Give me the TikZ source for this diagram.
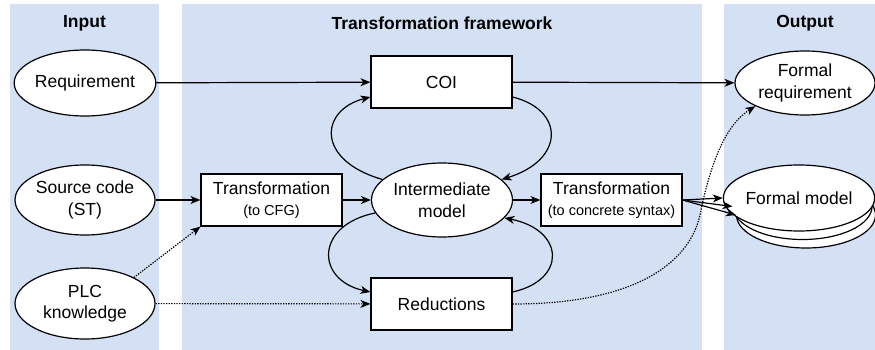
\documentclass[tikz,border=0pt]{standalone}
\usepackage{fontspec}
\setmainfont{Liberation Sans}
\usetikzlibrary{shapes.geometric,arrows.meta}
\definecolor{panel}{RGB}{212,225,245}
\newcommand{\smalltxt}{\fontsize{14.5}{18}\selectfont}
\begin{document}
\begin{tikzpicture}[x=1pt,y=-1pt,
  every node/.style={font=\fontsize{17.5}{21.5}\selectfont},
  ell/.style={ellipse,draw,fill=white,line width=1.2pt,inner sep=0pt,minimum width=140pt,minimum height=66pt,align=center},
  box/.style={rectangle,draw,fill=white,line width=1.2pt,inner sep=0pt,minimum width=141pt,minimum height=52pt,align=center},
  conn/.style={line width=1.2pt,-{Stealth[length=10pt,width=8pt,inset=3pt]}},
  dotconn/.style={conn,dash pattern=on 1.3pt off 1.3pt},
  title/.style={font=\fontsize{17.5}{21}\selectfont\bfseries}]
\useasboundingbox (0,0) rectangle (875,350);
% panels
\fill[panel] (10,4) rectangle (159,350);
\fill[panel] (182,4) rectangle (702,350);
\fill[panel] (724,4) rectangle (875,350);
\node[title] (tin) at (84.5,23) {Input};
\node[title] (tfw) at (442,23) {Transformation framework};
\node[title] (tout) at (805,23) {Output};
% input
\node[ell] (req) at (85,83) {Requirement};
\node[ell,minimum height=70pt] (src) at (85,200) {Source code\\(ST)};
\node[ell,minimum height=71pt] (plc) at (85,303.5) {PLC\\knowledge};
% framework
\node[box] (coi) at (441.5,82) {COI};
\node[box] (cfg) at (271.5,200) {Transformation\\{\smalltxt (to CFG)}};
\node[ell,minimum width=141pt,minimum height=74pt] (im) at (442,200) {Intermediate\\model};
\node[box] (tc) at (611.5,200) {Transformation\\{\smalltxt (to concrete syntax)}};
\node[box] (red) at (441.5,304) {Reductions};
% output
\node[ell,minimum height=64pt] (freq) at (805,83) {Formal\\requirement};
\node[ell,minimum width=139pt] (fm3) at (806,215) {};
\node[ell,minimum width=139pt] (fm2) at (802.5,206.5) {};
\node[ell,minimum width=139pt] (fm1) at (799,198) {Formal model};
% connectors
\draw[conn] (req) -- (coi);
\draw[conn] (coi) -- (freq);
\draw[conn] (src) -- (cfg);
\draw[conn] (cfg) -- (im);
\draw[conn] (im) -- (tc);
\draw[conn] (tc.east) -- (fm1.west);
\draw[conn] (tc.east) -- (fm2.west);
\draw[conn] (tc.east) -- (fm3.west);
\draw[dotconn] (plc.28) -- (cfg.south west);
\draw[dotconn] (plc) -- (red);
\draw[dotconn] (red.east) .. controls (640,304) and (690,260) .. (700,215)
  .. controls (710,165) and (725,125) .. (freq.205);
% loops
\draw[conn] (im.161) .. controls (315,160) and (320,110) .. ([yshift=-15pt]coi.west);
\draw[conn] ([yshift=-15pt]coi.east) .. controls (565,110) and (565,160) .. (im.19);
\draw[conn] (im.191) .. controls (315,225) and (315,280) .. ([yshift=12pt]red.west);
\draw[conn] ([yshift=12pt]red.east) .. controls (567,280) and (565,230) .. (im.344);
\end{tikzpicture}
\end{document}
